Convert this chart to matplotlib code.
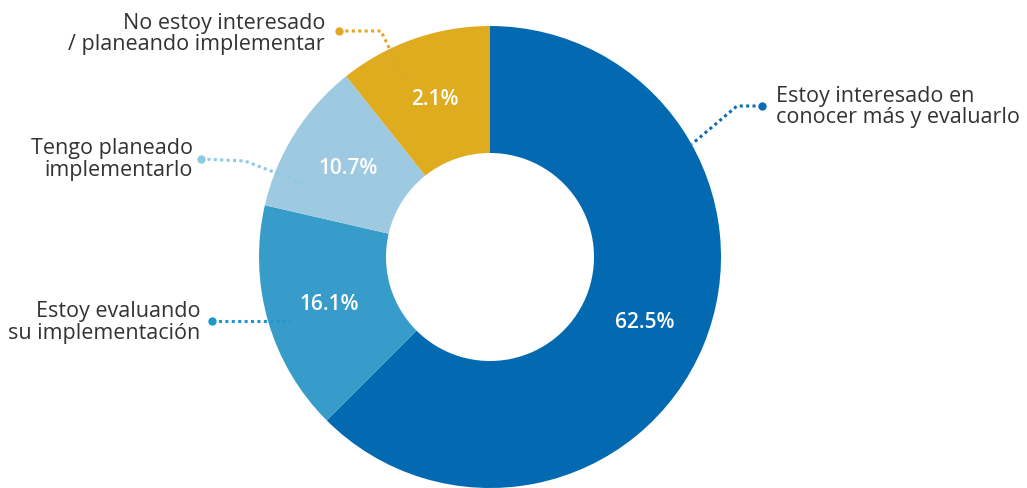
import matplotlib
matplotlib.use("Agg")
import matplotlib.pyplot as plt
import numpy as np

# Survey answers, clockwise from 12 o'clock
categories = [
    "Estoy interesado en\nconocer más y evaluarlo",
    "Estoy evaluando\nsu implementación",
    "Tengo planeado\nimplementarlo",
    "No estoy interesado\n/ planeando implementar",
]
values = [62.5, 16.1, 10.7, 2.1]
pct_labels = [f"{v}%" for v in values]

slice_colors = ["#036AB1", "#389CCB", "#9ECAE1", "#DEAC1E"]
leader_colors = ["#0A6DB3", "#1C98CB", "#8CCBE1", "#E2A624"]
text_color = "#333333"

W, H = 1027, 489
FONT = ["Open Sans", "DejaVu Sans"]

# The last category closes the ring
shares = values[:-1] + [100 - sum(values[:-1])]

fig = plt.figure(figsize=(W / 100, H / 100), dpi=100)
ax = fig.add_axes([0, 0, 1, 1])

cx, cy, R = 490, H - 258, 231
ring = 127

wedges, _ = ax.pie(
    shares,
    colors=slice_colors,
    startangle=90,
    counterclock=False,
    radius=R,
    center=(cx, cy),
    wedgeprops=dict(width=ring, linewidth=0),
    frame=True,
)
ax.set_xlim(0, W)
ax.set_ylim(0, H)
ax.set_aspect("equal")
ax.axis("off")

# Percentages in the middle of each ring segment
r_mid = R - ring / 2
for w, txt in zip(wedges, pct_labels):
    ang = np.deg2rad((w.theta1 + w.theta2) / 2)
    ax.text(cx + r_mid * np.cos(ang), cy + r_mid * np.sin(ang), txt,
            ha="center", va="center", color="white", fontsize=15,
            fontweight="semibold", family=FONT)

def y(p):
    return H - p

# Callout labels: (text x, first/second baselines, alignment, leader path)
callouts = [
    (776, (102, 123), "left", [(762, 107), (737, 107), (692, 145)]),
    (200, (317, 339), "right", [(212, 322), (290, 322)]),
    (193, (154, 176), "right", [(201, 160), (245, 162), (305, 185)]),
    (325, (29, 50), "right", [(339, 32), (381, 32), (405, 82)]),
]

for cat, col, (tx, baselines, ha, path) in zip(categories, leader_colors, callouts):
    for line, b in zip(cat.split("\n"), baselines):
        ax.text(tx, y(b), line, ha=ha, va="baseline", color=text_color,
                fontsize=15.5, family=FONT)
    xs = [p[0] for p in path]
    ys = [y(p[1]) for p in path]
    ax.plot(xs, ys, color=col, lw=2.2, linestyle=(0, (1, 1.1)),
            solid_capstyle="butt", dash_capstyle="butt")
    ax.plot(xs[0], ys[0], "o", color=col, ms=6, mec="none")

fig.savefig("out.png", dpi=100, facecolor="white")
